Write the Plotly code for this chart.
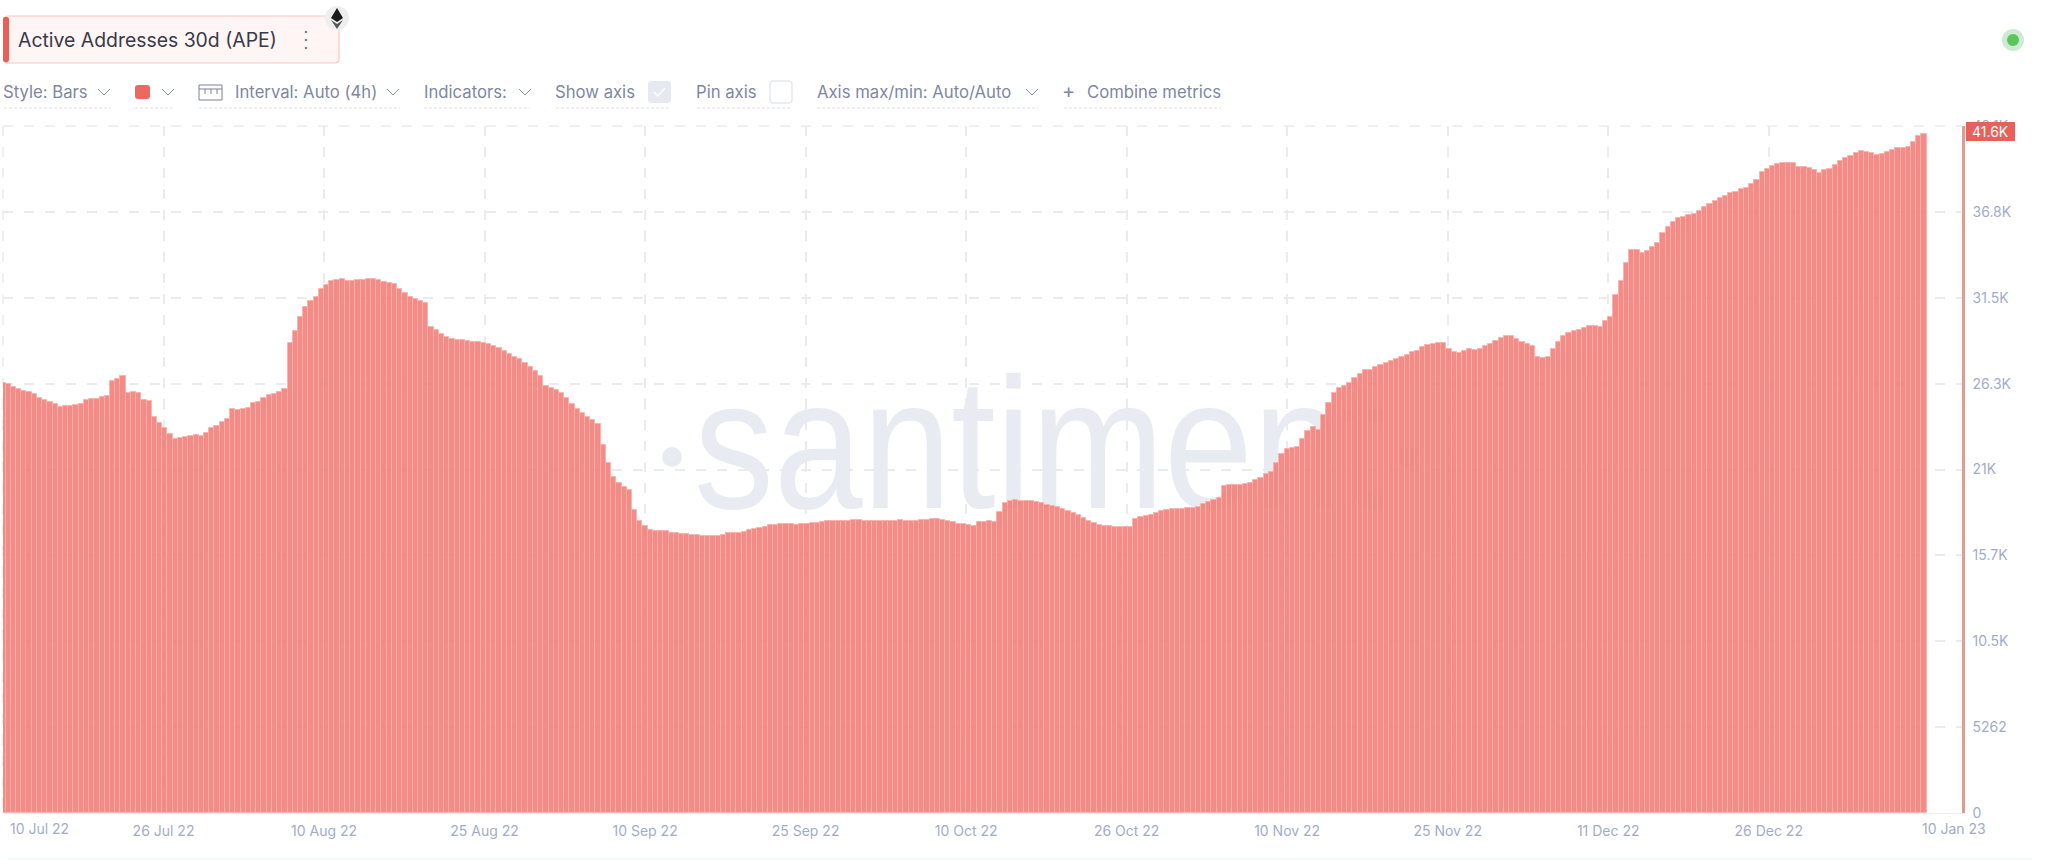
import pandas as pd
import plotly.graph_objects as go

# --- data (one reading every 12 hours) ---
start_date = "2022-07-10"
active_addresses = [
    26370, 26310, 26130, 25960, 25880, 25800, 25700, 25450, 25290, 25170, 25040, 24900, 24920, 24940, 25000, 25060,
    25290, 25350, 25390, 25490, 25550, 26450, 26580, 26800, 25760, 25800, 25760, 25330, 25270, 24290, 23900, 23570,
    23230, 22920, 22980, 23040, 23120, 23150, 23120, 23310, 23610, 23740, 23940, 24160, 24780, 24700, 24740, 24800,
    25110, 25170, 25410, 25600, 25700, 25800, 25980, 28780, 29560, 30410, 31030, 31390, 31600, 32110, 32370,
    32620, 32660, 32700, 32580, 32600, 32640, 32680, 32700, 32700, 32660, 32540, 32500, 32420, 32090, 31870, 31640,
    31480, 31360, 31250, 29800, 29600, 29370, 29190, 29050, 28990, 28970, 28930, 28880, 28860, 28820, 28740, 28640,
    28480, 28290, 28130, 27960, 27820, 27560, 27350, 27090, 26780, 26170, 26040, 25940, 25760, 25430, 25080, 24760,
    24490, 24290, 24070, 23860, 22550, 21430, 20610, 20200, 19960, 19780, 18570, 17890, 17590,
    17340, 17260, 17280, 17260, 17180, 17140, 17100, 17080, 17060, 17020, 16960, 16960, 16980, 16990, 17060, 17140,
    17160, 17180, 17240, 17360, 17420, 17480, 17550, 17630, 17650, 17690, 17710, 17710, 17650, 17690, 17730, 17750,
    17790, 17850, 17880, 17890, 17880, 17880, 17910, 17960, 17970, 17910, 17890, 17890, 17910, 17890, 17880, 17890,
    17940, 17910, 17890, 17890, 17960, 17970, 18000, 18000, 17970, 17910, 17810, 17730, 17690, 17650,
    17610, 17810, 17850, 17880, 17850, 18460, 18980, 19140, 19160, 19140, 19120, 19100, 19080, 19020, 18870, 18830,
    18770, 18610, 18510, 18400, 18260, 18060, 17880, 17750, 17650, 17610, 17570, 17530, 17530, 17510, 17510, 18040,
    18160, 18220, 18280, 18370, 18530, 18590, 18610, 18610, 18650, 18670, 18690, 18730, 18920, 19060, 19180, 19280,
    20020, 20100, 20100, 20120, 20140, 20240, 20390, 20550, 20770, 20910, 21470, 22000, 22300,
    22370, 22410, 22900, 23430, 23640, 23470, 24390, 25140, 25760, 26030, 26180, 26370, 26680, 26900, 27130, 27170,
    27330, 27450, 27580, 27700, 27820, 27940, 28080, 28230, 28330, 28540, 28680, 28760, 28780, 28780, 28420, 28230,
    28190, 28330, 28420, 28350, 28420, 28620, 28760, 28920, 29110, 29250, 29210, 29050, 28880, 28740, 28620, 27920,
    27900, 27940, 28420, 28880, 29250, 29400, 29520, 29580, 29740, 29840, 29860, 29800, 30150, 30380,
    31740, 32600, 33720, 34500, 34500, 34340, 34440, 34700, 34950, 35560, 35930, 36240, 36460, 36540, 36630, 36690,
    36890, 37120, 37320, 37520, 37710, 37830, 37970, 38050, 38240, 38280, 38530, 38790, 39260, 39450, 39670, 39770,
    39810, 39850, 39810, 39600, 39570, 39530, 39380, 39240, 39400, 39480, 39710, 39950, 40120, 40280, 40430, 40550,
    40520, 40430, 40340, 40400, 40520, 40650, 40770, 40770, 40790, 41140, 41490, 41600,
]
x_tick_dates = ["2022-07-10", "2022-07-25 09:00", "2022-08-09 18:00", "2022-08-25 03:00", "2022-09-09 12:00",
                "2022-09-24 21:00", "2022-10-10 06:00", "2022-10-25 15:00", "2022-11-10", "2022-11-25 09:00",
                "2022-12-10 18:00", "2022-12-26 03:00"]
x_tick_labels = ["", "26 Jul 22", "10 Aug 22", "25 Aug 22", "10 Sep 22", "25 Sep 22", "10 Oct 22", "26 Oct 22",
                 "10 Nov 22", "25 Nov 22", "11 Dec 22", "26 Dec 22"]
y_tick_values = [0, 5262, 10524, 15786, 21048, 26310, 31572, 36834, 42096]
y_tick_labels = ["0", "5262", "10.5K", "15.7K", "21K", "26.3K", "31.5K", "36.8K", "42.1K"]
x_range = ["2022-07-10", "2023-01-13 15:22"]

FONT = "Inter, 'Open Sans', sans-serif"
TICK = "#a2acc8"
TOOL = "#80879f"
GRID = "#e9ebee"
BAR_SIZE = 16.7

L, R, T, B = 3, 1962, 126, 813
px = lambda v: (v - L) / (R - L)
py = lambda v: (B - v) / (B - T)

dates = pd.date_range(start_date, periods=len(active_addresses), freq="12h")

fig = go.Figure(go.Bar(
    x=dates, y=active_addresses, width=12 * 3600 * 1000,
    marker=dict(color="#f2807a", opacity=0.9, line=dict(color="#fbaca7", width=1)),
    hoverinfo="skip",
))

shapes, notes = [], []


def rect(x0, y0, x1, y1, fill="rgba(0,0,0,0)", line=None, lw=0, layer="above", radius=0):
    if radius:
        r = radius
        X = lambda v: f"{px(v):.6f}"
        Y = lambda v: f"{py(v):.6f}"
        p = (f"M{X(x0+r)},{Y(y0)} L{X(x1-r)},{Y(y0)} Q{X(x1)},{Y(y0)} {X(x1)},{Y(y0+r)} "
             f"L{X(x1)},{Y(y1-r)} Q{X(x1)},{Y(y1)} {X(x1-r)},{Y(y1)} L{X(x0+r)},{Y(y1)} "
             f"Q{X(x0)},{Y(y1)} {X(x0)},{Y(y1-r)} L{X(x0)},{Y(y0+r)} Q{X(x0)},{Y(y0)} {X(x0+r)},{Y(y0)} Z")
        shapes.append(dict(type="path", path=p, xref="paper", yref="paper", fillcolor=fill,
                           line=dict(color=line or fill, width=lw), layer=layer))
    else:
        shapes.append(dict(type="rect", xref="paper", yref="paper", x0=px(x0), x1=px(x1), y0=py(y0), y1=py(y1),
                           fillcolor=fill, line=dict(color=line or fill, width=lw), layer=layer))


def line(x0, y0, x1, y1, color, w=1, dash=None, layer="above"):
    shapes.append(dict(type="line", xref="paper", yref="paper", x0=px(x0), x1=px(x1), y0=py(y0), y1=py(y1),
                       line=dict(color=color, width=w, dash=dash), layer=layer))


def poly(points, fill=None, color=None, w=1, close=False, layer="above"):
    d = "M" + " L".join(f"{px(a):.6f},{py(b):.6f}" for a, b in points) + (" Z" if close else "")
    shapes.append(dict(type="path", path=d, xref="paper", yref="paper", fillcolor=fill or "rgba(0,0,0,0)",
                       line=dict(color=color or "rgba(0,0,0,0)", width=w), layer=layer))


def circle(cx, cy, r, fill, layer="above"):
    shapes.append(dict(type="circle", xref="paper", yref="paper", x0=px(cx - r), x1=px(cx + r),
                       y0=py(cy + r), y1=py(cy - r), fillcolor=fill, line=dict(width=0), layer=layer))


def text(x, y, s, size, color, anchor="left", family=FONT):
    notes.append(dict(xref="paper", yref="paper", x=px(x), y=py(y), text=s, showarrow=False, xanchor=anchor,
                      yanchor="middle", font=dict(family=family, size=size, color=color),
                      borderpad=0, borderwidth=0))


def chevron(cx, cy):
    poly([(cx - 6, cy - 3), (cx, cy + 3), (cx + 6, cy - 3)], color="#8a90a5", w=1)


def underline(x0, x1):
    line(x0, 108, x1, 108, "#dfe1e7", 1, "3px,2px")


# watermark, under the bars
shapes.append(dict(type="rect", xref="paper", yref="paper", x0=px(640), x1=px(1440), y0=py(530), y1=py(320),
                   fillcolor="rgba(0,0,0,0)", line=dict(width=0), layer="below",
                   label=dict(text="santiment", textposition="middle center",
                              font=dict(family="'Liberation Sans'", size=186, color="#e8ebf2"))))
circle(672, 457, 10, "#e8ebf2", "below")
circle(1408, 457, 10, "#e8ebf2", "below")

# grid lines that fall on the plot edges
line(L, T, R, T, GRID, 1.5, "10px,11px", "below")
line(L, T, L, B, GRID, 1.5, "10px,11px", "below")

# metric pill
rect(4, 16, 339, 63, "#fff5f4", "#fbc6c2", 1.2, radius=4)
rect(3, 17, 9, 62, "#ea5e57", radius=2)
text(18, 40, "Active Addresses 30d (APE)", 19.4, "#363b4a")
for dy in (-8, 0, 8):
    circle(306, 40 + dy, 1.3, "#7d8397")
circle(337, 18, 12, "#eeeeee")
poly([(337, 8), (343, 18), (337, 22), (331, 18)], fill="#1b1b1b", close=True)
poly([(331, 20), (337, 24), (343, 20), (337, 29)], fill="#555555", close=True)

# toolbar
text(3, 92, "Style: Bars", BAR_SIZE, TOOL)
chevron(104, 92)
underline(4, 111)
rect(135, 85, 150, 99, "#ef6860", radius=3)
chevron(168, 92)
underline(135, 174)
rect(199, 85, 222, 100, line="#7a8199", lw=1)
line(199, 89, 222, 89, "#7a8199", 1)
for vx in (205, 211, 217):
    line(vx, 89, vx, 94, "#7a8199", 1)
text(235, 92, "Interval: Auto (4h)", BAR_SIZE, TOOL)
chevron(393, 92)
underline(199, 400)
text(424, 92, "Indicators:", BAR_SIZE, TOOL)
chevron(525, 92)
underline(424, 530)
text(555, 92, "Show axis", BAR_SIZE, TOOL)
rect(648, 81, 671, 103, "#e6e9f1", radius=3)
poly([(654, 92), (658, 96), (665, 88)], color="#ffffff", w=1.5)
underline(556, 670)
text(696, 92, "Pin axis", BAR_SIZE, TOOL)
rect(770, 81, 792, 103, "#ffffff", "#e6e9f1", 1.5, radius=3)
underline(697, 791)
text(817, 92, "Axis max/min: Auto/Auto", BAR_SIZE, TOOL)
chevron(1032, 92)
underline(817, 1038)
text(1068, 91, "+", 20, TOOL, "center")
text(1087, 92, "Combine metrics", BAR_SIZE, TOOL)
underline(1064, 1221)

# status dot
circle(2013, 40, 11, "#cdebd3")
circle(2013, 40, 6, "#5cc45a")

# value flag
rect(1966, 122, 2015, 141, "#e9605a")
text(1990.5, 131.5, "41.6K", 14, "#ffffff", "center")

# first and last date labels are not centred on their grid lines
text(39, 828, "10 Jul 22", 14, TICK, "center")
text(1954, 828, "10 Jan 23", 14, TICK, "center")

# page rule at the bottom
line(8, 859, 2032, 859, "#eceef2", 1)

fig.update_layout(
    width=2048, height=860, autosize=False,
    margin=dict(l=L, r=2048 - R, t=T, b=860 - B, pad=0),
    paper_bgcolor="#ffffff", plot_bgcolor="#ffffff",
    showlegend=False, bargap=0,
    shapes=shapes, annotations=notes,
    font=dict(family=FONT),
    xaxis=dict(type="date", range=x_range, tickmode="array", tickvals=x_tick_dates, ticktext=x_tick_labels,
               showgrid=True, gridcolor=GRID, griddash="10px,11px", gridwidth=1.5,
               showline=True, linecolor="#eceef2", linewidth=1, zeroline=False,
               ticks="outside", ticklen=5, tickcolor="#ffffff", tickfont=dict(family=FONT, size=14, color=TICK)),
    yaxis=dict(side="right", range=[0, 42096], tickmode="array", tickvals=y_tick_values, ticktext=y_tick_labels,
               showgrid=True, gridcolor=GRID, griddash="10px,11px", gridwidth=1.5,
               showline=True, linecolor="#e29a95", linewidth=2.5, zeroline=False,
               ticks="outside", ticklen=5, tickcolor="#ffffff", tickfont=dict(family=FONT, size=14, color=TICK)),
)

# the watermark's lettering is narrower than any installed face: squeeze the real text to its width
squeeze = ("document.querySelectorAll('text').forEach(function(t){if(t.textContent==='santiment'){"
           "t.setAttribute('textLength','692');t.setAttribute('lengthAdjust','spacingAndGlyphs');}});")
fig.write_html("out.html", config={"displayModeBar": False},
               post_script="document.body.style.margin='0';document.body.style.overflow='hidden';" + squeeze)
